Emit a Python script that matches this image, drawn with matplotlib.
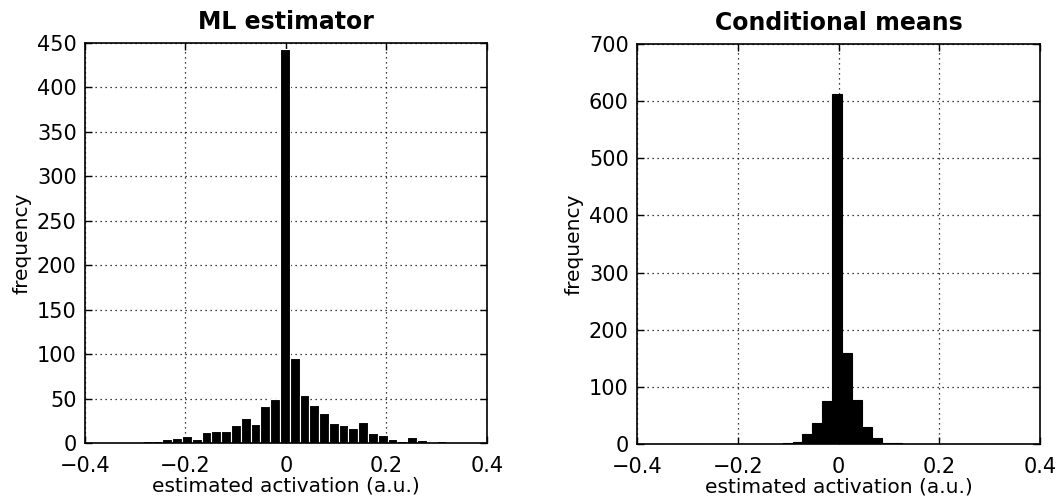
import matplotlib
matplotlib.use("Agg")
import matplotlib.pyplot as plt
import numpy as np

# histogram counts
ml_start, ml_width = -0.285, 0.0195
ml_counts = [2.5, 2.5, 4, 5.5, 7.5, 5, 12.5, 13.5, 13.5, 20, 28, 21.5, 42, 50,
             443, 96, 54, 43, 34, 22.5, 20, 17, 24, 11, 9, 4.5, 2, 7, 3.5, 1, 2, 1]

cm_start, cm_width = -0.111, 0.0197
cm_counts = [1, 3, 17, 36, 75, 613, 159, 77, 30, 11, 2.5, 1]

xticks = [-0.4, -0.2, 0, 0.2, 0.4]
xticklabels = ["\u22120.4", "\u22120.2", "0", "0.2", "0.4"]

plt.rcParams['font.family'] = ['DejaVu Sans']

fig = plt.figure(figsize=(10.62, 5.04), dpi=100)
ax1 = fig.add_axes([0.080, 0.121, 0.3785, 0.794])
ax2 = fig.add_axes([0.5998, 0.119, 0.3795, 0.794])


def draw(ax, start, width, counts, ymax, ystep, title, edge):
    lefts = start + width * np.arange(len(counts))
    ax.bar(lefts, counts, width=width, align='edge', color='black',
           edgecolor=edge, linewidth=0.8, zorder=3)
    ax.set_xlim(-0.4, 0.4)
    ax.set_ylim(0, ymax)
    ax.set_xticks(xticks)
    ax.set_xticklabels(xticklabels)
    ax.set_yticks(np.arange(0, ymax + 1, ystep))
    ax.grid(True, linestyle=(0, (1, 3)), color='black', linewidth=0.9, zorder=0)
    ax.tick_params(direction='in', top=True, right=True, labelsize=15,
                   length=5, width=1)
    ax.tick_params(axis='x', pad=9)
    ax.tick_params(axis='y', pad=6)
    for s in ax.spines.values():
        s.set_linewidth(1.2)
        s.set_zorder(4)
    ax.set_title(title, fontsize=17, fontweight='bold', pad=10)
    ax.set_xlabel("estimated activation (a.u.)", fontsize=14.5, labelpad=1)
    ax.set_ylabel("frequency", fontsize=14.5, labelpad=4)


draw(ax1, ml_start, ml_width, ml_counts, 450, 50, "ML estimator", 'white')
draw(ax2, cm_start, cm_width, cm_counts, 700, 100, "Conditional means", 'black')

fig.savefig("out.png", dpi=100)
